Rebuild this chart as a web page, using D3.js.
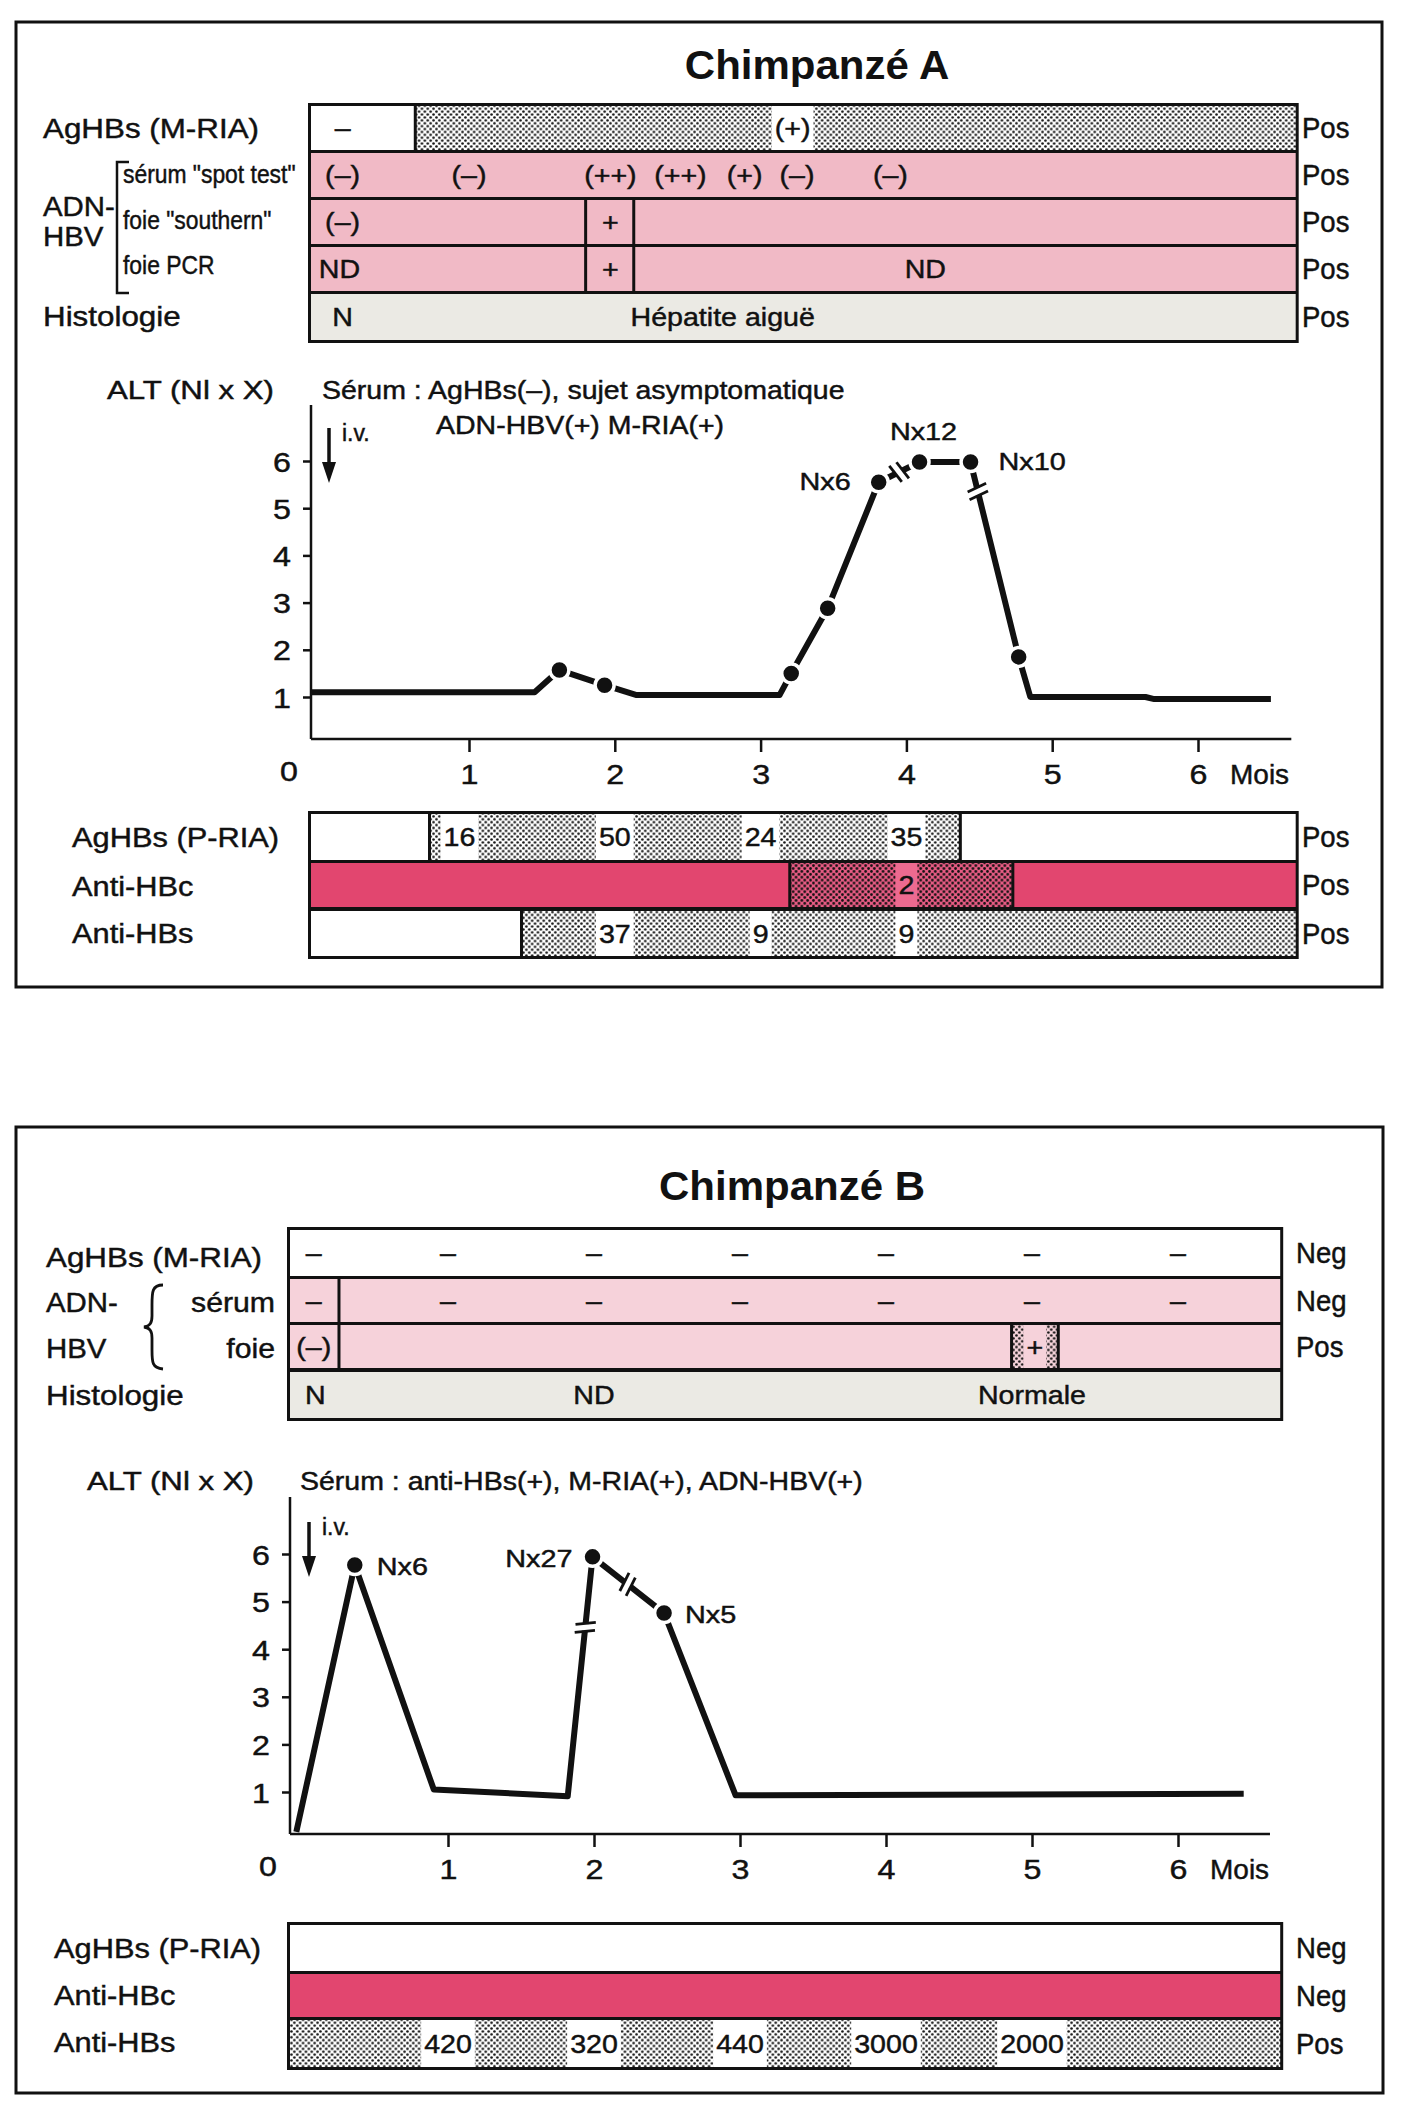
<!DOCTYPE html>
<html><head><meta charset="utf-8">
<script src="https://cdn.jsdelivr.net/npm/d3@7"></script>
<style>body{margin:0;background:#fff}svg{display:block}</style>
</head><body>
<svg id="c" width="1404" height="2120"></svg>
<script>
// ===================== DATA =====================
const monthTicks = [1, 2, 3, 4, 5, 6];
const altTicks = [1, 2, 3, 4, 5, 6];

// ---- Chimpanzé A : top block (segments = [startMonth, endMonth, fill]) ----
const aTopLabels = ["AgHBs (M-RIA)", "sérum \"spot test\"", "foie \"southern\"", "foie PCR", "Histologie"];
const aTopStatus = ["Pos", "Pos", "Pos", "Pos", "Pos"];
const aMriaSeg = [[0, 0.66, "white"], [0.66, 6.67, "dots"]];
const aMriaLab = [[0.2, "–"], [3.22, "(+)"]];
const aSpotSeg = [[0, 6.67, "pink"]];
const aSpotLab = [[0.2, "(–)"], [1.0, "(–)"], [1.97, "(++)"], [2.45, "(++)"], [2.89, "(+)"], [3.25, "(–)"], [3.89, "(–)"]];
const aSouthSeg = [[0, 1.8, "pink"], [1.8, 2.13, "pink"], [2.13, 6.67, "pink"]];
const aSouthLab = [[0.2, "(–)"], [1.97, "+"]];
const aPcrSeg = [[0, 1.8, "pink"], [1.8, 2.13, "pink"], [2.13, 6.67, "pink"]];
const aPcrLab = [[0.18, "ND"], [1.97, "+"], [4.13, "ND"]];
const aHistoSeg = [[0, 6.67, "grey"]];
const aHistoLab = [[0.2, "N"], [2.74, "Hépatite aiguë"]];

// ---- Chimpanzé A : ALT curve ----
const aAltMonths = [0, 1.45, 1.62, 1.93, 2.15, 3.13, 3.21, 3.46, 3.81, 4.09, 4.44, 4.77, 4.85, 5.64, 5.7, 6.5];
const aAltValues = [1.1, 1.1, 1.57, 1.25, 1.04, 1.04, 1.5, 2.88, 5.55, 5.98, 5.98, 1.85, 1.0, 1.0, 0.95, 0.95];
const aDotMonths = [1.62, 1.93, 3.21, 3.46, 3.81, 4.09, 4.44, 4.77];
const aDotValues = [1.57, 1.25, 1.5, 2.88, 5.55, 5.98, 5.98, 1.85];
const aBreakMonths = [3.95, 4.49];
const aPeakText = ["Nx6", "Nx12", "Nx10"];
const aPeakMonths = [3.81, 4.09, 4.44];
const aPeakValues = [5.55, 5.98, 5.98];
const aNote = ["Sérum : AgHBs(–), sujet asymptomatique", "ADN-HBV(+) M-RIA(+)"];

// ---- Chimpanzé A : bottom block ----
const bottomLabels = ["AgHBs (P-RIA)", "Anti-HBc", "Anti-HBs"];
const aBottomStatus = ["Pos", "Pos", "Pos"];
const aPriaSeg = [[0, 0.75, "white"], [0.75, 4.37, "dots"], [4.37, 6.67, "white"]];
const aPriaLab = [[0.94, "16"], [2, "50"], [3, "24"], [4, "35"]];
const aHbcSeg = [[0, 3.2, "hot"], [3.2, 4.73, "hotdots"], [4.73, 6.67, "hot"]];
const aHbcLab = [[4, "2"]];
const aHbsSeg = [[0, 1.36, "white"], [1.36, 6.67, "dots"]];
const aHbsLab = [[2, "37"], [3, "9"], [4, "9"]];

// ---- Chimpanzé B : top block ----
const bTopLabels = ["AgHBs (M-RIA)", "sérum", "foie", "Histologie"];
const bTopStatus = ["Neg", "Neg", "Pos", ""];
const bMriaSeg = [[0, 6.7, "white"]];
const bMriaLab = [[0.15, "–"], [1, "–"], [2, "–"], [3, "–"], [4, "–"], [5, "–"], [6, "–"]];
const bSerumSeg = [[0, 0.31, "lpink"], [0.31, 6.7, "lpink"]];
const bSerumLab = [[0.15, "–"], [1, "–"], [2, "–"], [3, "–"], [4, "–"], [5, "–"], [6, "–"]];
const bFoieSeg = [[0, 0.31, "lpink"], [0.31, 4.86, "lpink"], [4.86, 5.18, "lpinkdots"], [5.18, 6.7, "lpink"]];
const bFoieLab = [[0.15, "(–)"], [5.02, "+"]];
const bHistoSeg = [[0, 6.7, "grey"]];
const bHistoLab = [[0.16, "N"], [2.0, "ND"], [5.0, "Normale"]];

// ---- Chimpanzé B : ALT curve ----
const bAltMonths = [0.04, 0.41, 0.91, 1.82, 1.99, 2.48, 2.97, 6.45];
const bAltValues = [0.05, 5.77, 1.05, 0.9, 5.94, 4.76, 0.92, 0.96];
const bDotMonths = [0.41, 1.99, 2.48];
const bDotValues = [5.77, 5.94, 4.76];
const bBreakMonths = [1.94, 2.23];
const bPeakText = ["Nx6", "Nx27", "Nx5"];
const bPeakMonths = [0.41, 1.99, 2.48];
const bPeakValues = [5.77, 5.94, 4.76];
const bNote = ["Sérum : anti-HBs(+), M-RIA(+), ADN-HBV(+)"];

// ---- Chimpanzé B : bottom block ----
const bBottomStatus = ["Neg", "Neg", "Pos"];
const bPriaSeg = [[0, 6.7, "white"]];
const bPriaLab = [];
const bHbcSeg = [[0, 6.7, "hot"]];
const bHbcLab = [];
const bHbsSeg = [[0, 6.7, "dots"]];
const bHbsLab = [[1, "420"], [2, "320"], [3, "440"], [4, "3000"], [5, "2000"]];

// ===================== DRAWING =====================
const FONT = "'Liberation Sans', Arial, Helvetica, sans-serif";
const INK = "#111";
const svg = d3.select("#c").attr("font-family", FONT);
svg.append("rect").attr("width", 1404).attr("height", 2120).attr("fill", "#fff");

const defs = svg.append("defs");
function dotPattern(id, bg, r) {
  const s = 5.8;
  const p = defs.append("pattern").attr("id", id).attr("patternUnits", "userSpaceOnUse")
    .attr("width", s).attr("height", s);
  p.append("rect").attr("width", s).attr("height", s).attr("fill", bg);
  p.append("circle").attr("cx", s / 4).attr("cy", s / 4).attr("r", r).attr("fill", INK);
  p.append("circle").attr("cx", 3 * s / 4).attr("cy", 3 * s / 4).attr("r", r).attr("fill", INK);
}
dotPattern("dots", "#fff", 1.32);
dotPattern("hotdots", "#e65b83", 1.35);
dotPattern("lpinkdots", "#f5d3da", 1.3);

const fills = {
  white: "#fff", dots: "url(#dots)", pink: "#f1bac6", lpink: "#f6d2da",
  grey: "#ebeae4", hot: "#e2466f", hotdots: "url(#hotdots)", lpinkdots: "url(#lpinkdots)"
};
const labelBg = { dots: "#fff", hotdots: "#ec6a90", lpinkdots: "#f6d2da" };

function T(g, x, y, s, o = {}) {
  const sx = o.sx ?? 1.15;
  return g.append("text")
    .attr("transform", `translate(${x},${y}) scale(${sx},1)`)
    .attr("text-anchor", o.anchor || "start")
    .attr("font-size", o.size || 26)
    .attr("font-weight", o.weight || "normal")
    .attr("fill", INK)
    .attr("stroke", o.weight ? "none" : INK)
    .attr("stroke-width", 0.45)
    .text(s);
}

function block(g, x, rows, m0, m1, statusX) {
  const L = x(m0), R = x(m1);
  const top = rows[0].y0, bot = rows[rows.length - 1].y1;
  g.append("rect").attr("x", L - 3).attr("y", top - 3).attr("width", R - L + 6)
    .attr("height", bot - top + 6).attr("fill", INK);
  rows.forEach(r => {
    const mid = (r.y0 + r.y1) / 2;
    r.seg.forEach(s => g.append("rect").attr("x", x(s[0])).attr("y", r.y0)
      .attr("width", x(s[1]) - x(s[0])).attr("height", r.y1 - r.y0).attr("fill", fills[s[2]]));
    r.seg.slice(1).forEach(s => g.append("line").attr("x1", x(s[0])).attr("x2", x(s[0]))
      .attr("y1", r.y0).attr("y2", r.y1).attr("stroke", INK).attr("stroke-width", 3));
    r.lab.forEach(l => {
      const seg = r.seg.find(s => l[0] >= s[0] && l[0] <= s[1]);
      const size = 26, sx = 1.1;
      const t = T(g, x(l[0]), mid + size * 0.36, l[1], { anchor: "middle", size, sx });
      if (seg && labelBg[seg[2]]) {
        const w = t.node().getComputedTextLength() * sx + 6;
        g.insert("rect", () => t.node()).attr("x", x(l[0]) - w / 2).attr("y", r.y0)
          .attr("width", w).attr("height", r.y1 - r.y0).attr("fill", labelBg[seg[2]]);
      }
    });
    if (r.status) T(g, statusX, mid + 10, r.status, { size: 29, sx: 0.95 });
  });
}

function interp(months, values, m) {
  for (let i = 0; i < months.length - 1; i++) {
    if (m >= months[i] && m <= months[i + 1]) {
      const f = (m - months[i]) / (months[i + 1] - months[i]);
      return { v: values[i] + f * (values[i + 1] - values[i]), i };
    }
  }
  return { v: values[values.length - 1], i: months.length - 2 };
}

function altChart(g, x, y, cfg) {
  // axes
  const yAxis = d3.axisLeft(y).tickValues(altTicks).tickSize(8).tickFormat(d3.format("d"));
  const ya = g.append("g").attr("transform", `translate(${x(0)},0)`).call(yAxis);
  ya.select(".domain").remove();
  ya.selectAll(".tick line").attr("stroke", INK).attr("stroke-width", 2.5);
  ya.selectAll(".tick text").attr("font-family", FONT).attr("font-size", 28).attr("fill", INK)
    .attr("stroke", INK).attr("stroke-width", 0.45)
    .attr("dy", null).attr("x", null)
    .attr("transform", "translate(-20,10) scale(1.15,1)").attr("text-anchor", "end");
  g.append("line").attr("x1", x(0)).attr("x2", x(0)).attr("y1", cfg.axisTop).attr("y2", y(0))
    .attr("stroke", INK).attr("stroke-width", 2.5);

  const xAxis = d3.axisBottom(x).tickValues(monthTicks).tickSize(13).tickFormat(d3.format("d"));
  const xa = g.append("g").attr("transform", `translate(0,${y(0)})`).call(xAxis);
  xa.select(".domain").remove();
  xa.selectAll(".tick line").attr("stroke", INK).attr("stroke-width", 2.5);
  xa.selectAll(".tick text").attr("font-family", FONT).attr("font-size", 28).attr("fill", INK)
    .attr("stroke", INK).attr("stroke-width", 0.45)
    .attr("dy", null).attr("y", null)
    .attr("transform", "translate(0,45) scale(1.15,1)").attr("text-anchor", "middle");
  g.append("line").attr("x1", x(0)).attr("x2", x(cfg.axisEnd)).attr("y1", y(0)).attr("y2", y(0))
    .attr("stroke", INK).attr("stroke-width", 2.5);
  T(g, x(0) - 22, y(0) + 42, "0", { anchor: "middle", size: 28 });
  T(g, x(6) + 32, y(0) + 45, "Mois", { size: 28, sx: 1.0 });

  // titles
  T(g, cfg.altLabel[0], cfg.altLabel[1], "ALT (Nl x X)", { size: 26, sx: 1.2 });
  cfg.note.forEach((s, i) => T(g, cfg.notePos[i][0], cfg.notePos[i][1], s, { size: 25, sx: 1.14 }));

  // i.v. arrow
  const ax = cfg.iv[0], ay = cfg.iv[1];
  g.append("line").attr("x1", ax).attr("x2", ax).attr("y1", ay).attr("y2", ay + 40)
    .attr("stroke", INK).attr("stroke-width", 3.5);
  g.append("path").attr("d", `M${ax - 7},${ay + 34} L${ax + 7},${ay + 34} L${ax},${ay + 55} Z`).attr("fill", INK);
  T(g, ax + 13, ay + 13, "i.v.", { size: 23, sx: 1.0 });

  // curve
  const pts = d3.zip(cfg.months, cfg.values);
  const line = d3.line().x(d => x(d[0])).y(d => y(d[1]));
  g.append("path").attr("d", line(pts)).attr("fill", "none").attr("stroke", INK)
    .attr("stroke-width", 6).attr("stroke-linejoin", "round");

  // breaks
  cfg.breaks.forEach(m => {
    const r = interp(cfg.months, cfg.values, m);
    const i = r.i;
    const dx = x(cfg.months[i + 1]) - x(cfg.months[i]);
    const dy = y(cfg.values[i + 1]) - y(cfg.values[i]);
    const ang = Math.atan2(dy, dx) * 180 / Math.PI;
    const bg = g.append("g").attr("transform", `translate(${x(m)},${y(r.v)}) rotate(${ang})`);
    bg.append("rect").attr("x", -3.5).attr("y", -11).attr("width", 7).attr("height", 22).attr("fill", "#fff");
    [-4, 4].forEach(o => bg.append("line").attr("x1", o - 2).attr("y1", -10).attr("x2", o + 2).attr("y2", 10)
      .attr("stroke", INK).attr("stroke-width", 2.8));
  });

  // dots
  d3.zip(cfg.dotMonths, cfg.dotValues).forEach(d => {
    g.append("circle").attr("cx", x(d[0])).attr("cy", y(d[1])).attr("r", 9.5)
      .attr("fill", INK).attr("stroke", "#fff").attr("stroke-width", 3.5);
  });

  // peak labels
  cfg.peakText.forEach((s, i) => {
    const o = cfg.peakOff[i];
    T(g, x(cfg.peakMonths[i]) + o[0], y(cfg.peakValues[i]) + o[1], s, { anchor: o[2], size: 24, sx: 1.2 });
  });
}

function rows(ys, segs, labs, status) {
  return ys.map((yy, i) => ({ y0: yy[0], y1: yy[1], seg: segs[i], lab: labs[i], status: status[i] }));
}

// ---------------- Chimpanzé A ----------------
const gA = svg.append("g");
gA.append("rect").attr("x", 16).attr("y", 22).attr("width", 1366).attr("height", 965)
  .attr("fill", "none").attr("stroke", INK).attr("stroke-width", 3);
T(gA, 817, 79, "Chimpanzé A", { anchor: "middle", size: 40, weight: "bold", sx: 1.05 });

const xA = d3.scaleLinear().domain([0, 1, 6]).range([311, 469, 1198]);
const yA = d3.scaleLinear().domain([0, 1, 6]).range([739, 697, 461]);

const aTopY = [[106, 150], [153, 197], [200, 244], [247, 291], [294, 340]];
block(gA, xA, rows(aTopY, [aMriaSeg, aSpotSeg, aSouthSeg, aPcrSeg, aHistoSeg],
  [aMriaLab, aSpotLab, aSouthLab, aPcrLab, aHistoLab], aTopStatus), 0, 6.67, 1302);
// left labels
T(gA, 43, 138, aTopLabels[0], { size: 28, sx: 1.12 });
T(gA, 43, 216, "ADN-", { size: 28, sx: 1.05 });
T(gA, 43, 246, "HBV", { size: 28, sx: 1.05 });
T(gA, 43, 326, aTopLabels[4], { size: 28, sx: 1.12 });
[183, 229, 274].forEach((yy, i) => T(gA, 123, yy, aTopLabels[i + 1], { size: 26, sx: 0.88 }));
gA.append("path").attr("d", "M129,162 H117 V293 H129").attr("fill", "none").attr("stroke", INK).attr("stroke-width", 2.5);

altChart(gA, xA, yA, {
  axisTop: 405, axisEnd: 6.64,
  altLabel: [107, 399], note: aNote, notePos: [[322, 399], [436, 434]],
  iv: [329, 428],
  months: aAltMonths, values: aAltValues, dotMonths: aDotMonths, dotValues: aDotValues,
  breaks: aBreakMonths,
  peakText: aPeakText, peakMonths: aPeakMonths, peakValues: aPeakValues,
  peakOff: [[-28, 8, "end"], [4, -22, "middle"], [28, 8, "start"]]
});

const aBotY = [[814, 860], [863, 907], [911, 956]];
block(gA, xA, rows(aBotY, [aPriaSeg, aHbcSeg, aHbsSeg], [aPriaLab, aHbcLab, aHbsLab], aBottomStatus), 0, 6.67, 1302);
[847, 896, 943].forEach((yy, i) => T(gA, 72, yy, bottomLabels[i], { size: 28, sx: 1.1 }));

// ---------------- Chimpanzé B ----------------
const gB = svg.append("g");
gB.append("rect").attr("x", 16).attr("y", 1127).attr("width", 1367).attr("height", 966)
  .attr("fill", "none").attr("stroke", INK).attr("stroke-width", 3);
T(gB, 792, 1200, "Chimpanzé B", { anchor: "middle", size: 40, weight: "bold", sx: 1.05 });

const xB = d3.scaleLinear().domain([0, 1, 6]).range([290, 448, 1178]);
const yB = d3.scaleLinear().domain([0, 1, 6]).range([1834, 1792, 1554]);

const bTopY = [[1230, 1276], [1279, 1322], [1325, 1368], [1372, 1418]];
block(gB, xB, rows(bTopY, [bMriaSeg, bSerumSeg, bFoieSeg, bHistoSeg],
  [bMriaLab, bSerumLab, bFoieLab, bHistoLab], bTopStatus), 0, 6.7, 1296);
T(gB, 46, 1267, bTopLabels[0], { size: 28, sx: 1.12 });
T(gB, 46, 1312, "ADN-", { size: 28, sx: 1.05 });
T(gB, 46, 1358, "HBV", { size: 28, sx: 1.05 });
T(gB, 275, 1312, bTopLabels[1], { size: 28, sx: 1.08, anchor: "end" });
T(gB, 275, 1358, bTopLabels[2], { size: 28, sx: 1.08, anchor: "end" });
T(gB, 46, 1405, bTopLabels[3], { size: 28, sx: 1.12 });
gB.append("path")
  .attr("d", "M163,1285 C152,1285 152,1292 152,1305 L152,1316 C152,1323 150,1326 144,1327 C150,1328 152,1331 152,1338 L152,1350 C152,1362 152,1368 163,1369")
  .attr("fill", "none").attr("stroke", INK).attr("stroke-width", 2.8);

altChart(gB, xB, yB, {
  axisTop: 1497, axisEnd: 6.63,
  altLabel: [87, 1490], note: bNote, notePos: [[300, 1490]],
  iv: [309, 1522],
  months: bAltMonths, values: bAltValues, dotMonths: bDotMonths, dotValues: bDotValues,
  breaks: bBreakMonths,
  peakText: bPeakText, peakMonths: bPeakMonths, peakValues: bPeakValues,
  peakOff: [[22, 10, "start"], [-20, 10, "end"], [21, 10, "start"]]
});

const bBotY = [[1925, 1971], [1974, 2017], [2020, 2067]];
block(gB, xB, rows(bBotY, [bPriaSeg, bHbcSeg, bHbsSeg], [bPriaLab, bHbcLab, bHbsLab], bBottomStatus), 0, 6.7, 1296);
[1958, 2005, 2052].forEach((yy, i) => T(gB, 54, yy, bottomLabels[i], { size: 28, sx: 1.1 }));
</script>
</body></html>
